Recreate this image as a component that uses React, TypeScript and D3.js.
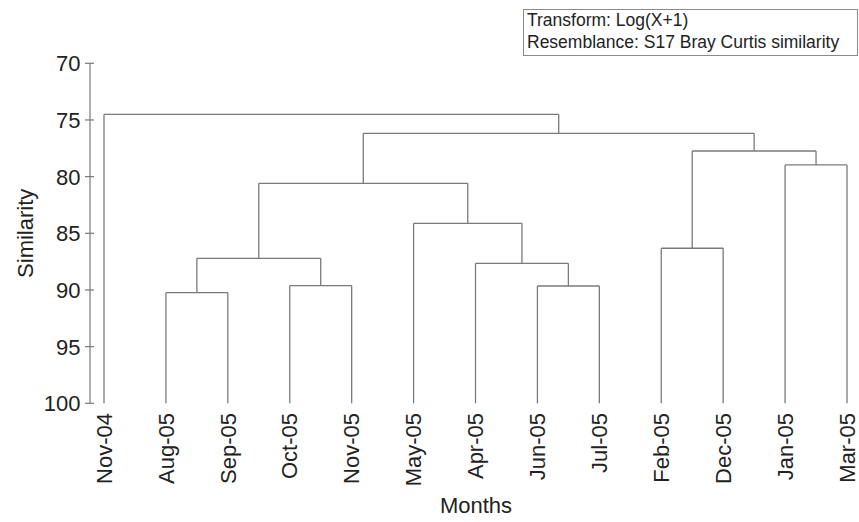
import React from "react";
import * as d3 from "d3";

// Leaf order along the x axis
const months = [
  "Nov-04", "Aug-05", "Sep-05", "Oct-05", "Nov-05", "May-05", "Apr-05",
  "Jun-05", "Jul-05", "Feb-05", "Dec-05", "Jan-05", "Mar-05",
];

// Agglomeration steps: node ids < months.length are leaves, later ids are earlier merges
const mergeLeft = [1, 7, 3, 6, 13, 9, 5, 17, 11, 18, 20, 0];
const mergeRight = [2, 8, 4, 14, 15, 10, 16, 19, 12, 21, 22, 23];
const mergeSimilarity = [90.24, 89.65, 89.62, 87.65, 87.21, 86.32, 84.12, 80.59, 78.97, 77.74, 76.18, 74.5];

const yTicks = [70, 75, 80, 85, 90, 95, 100];
const legendLines = ["Transform: Log(X+1)", "Resemblance: S17 Bray Curtis similarity"];

const W = 859;
const H = 522;
const FONT = "Arial, 'Liberation Sans', Helvetica, sans-serif";
const LINE = "#7a7a7a";

export default function App() {
  const x = d3.scalePoint<string>().domain(months).range([104, 847]);
  const y = d3.scaleLinear().domain([70, 100]).range([63.3, 403.3]);

  // Position every node: leaves sit at 100% similarity, merges at the midpoint of their children
  const nodes: { x: number; s: number }[] = months.map((m) => ({ x: x(m)!, s: 100 }));
  const segments: { x1: number; y1: number; x2: number; y2: number }[] = [];
  mergeLeft.forEach((l, i) => {
    const r = mergeRight[i];
    const s = mergeSimilarity[i];
    const a = nodes[l];
    const b = nodes[r];
    const yy = y(s);
    segments.push({ x1: a.x, y1: yy, x2: b.x, y2: yy });
    segments.push({ x1: a.x, y1: yy, x2: a.x, y2: y(a.s) });
    segments.push({ x1: b.x, y1: yy, x2: b.x, y2: y(b.s) });
    nodes.push({ x: (a.x + b.x) / 2, s });
  });

  const axisX = 90;

  return (
    <svg
      width={W}
      height={H}
      style={{ position: "absolute", left: 0, top: 0, background: "#fff", display: "block" }}
      fontFamily={FONT}
    >
      <rect x={0} y={0} width={W} height={H} fill="#fff" />

      {/* Legend box */}
      <rect x={523.5} y={9.5} width={334} height={46} fill="#fff" stroke="#8a8a8a" strokeWidth={1} />
      {legendLines.map((t, i) => (
        <text key={t} x={527} y={26 + i * 21.5} fontSize={17.5} fill="#222">
          {t}
        </text>
      ))}

      {/* Y axis */}
      <line x1={axisX} y1={y(70)} x2={axisX} y2={y(100)} stroke={LINE} strokeWidth={1.2} />
      {yTicks.map((t) => (
        <g key={t}>
          <line x1={85} x2={axisX + 4} y1={y(t)} y2={y(t)} stroke={LINE} strokeWidth={1.2} />
          <text x={80.5} y={y(t)} dy="0.36em" textAnchor="end" fontSize={22} fill="#222">
            {t}
          </text>
        </g>
      ))}
      <text
        transform={`translate(${25},${y(85)}) rotate(-90)`}
        textAnchor="middle"
        dy="0.35em"
        fontSize={22}
        fill="#222"
      >
        Similarity
      </text>

      {/* Dendrogram */}
      {segments.map((s, i) => (
        <line key={i} x1={s.x1} y1={s.y1} x2={s.x2} y2={s.y2} stroke={LINE} strokeWidth={1.3} />
      ))}

      {/* Leaf labels */}
      {months.map((m) => (
        <text
          key={m}
          transform={`translate(${x(m)!},${413}) rotate(-90)`}
          textAnchor="end"
          dy="0.35em"
          fontSize={22}
          fill="#222"
        >
          {m}
        </text>
      ))}
      <text x={476} y={513} textAnchor="middle" fontSize={22} fill="#222">
        Months
      </text>
    </svg>
  );
}
